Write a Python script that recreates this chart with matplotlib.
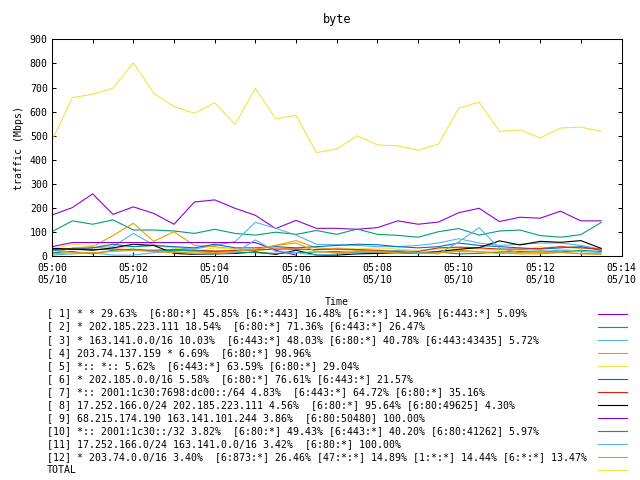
import numpy as np
import pandas as pd
import matplotlib
matplotlib.use('Agg')
import matplotlib.pyplot as plt
import matplotlib.dates as mdates
from matplotlib.lines import Line2D

plt.rcParams['font.family'] = ['DejaVu Sans Mono']
plt.rcParams['font.size'] = 7.15

# 30-second samples, 05:00:00 .. 05:13:30
times = pd.date_range('2020-05-10 05:00:00', periods=28, freq='30s')

labels = [
    "[ 1] * * 29.63%  [6:80:*] 45.85% [6:*:443] 16.48% [6:*:*] 14.96% [6:443:*] 5.09%",
    "[ 2] * 202.185.223.111 18.54%  [6:80:*] 71.36% [6:443:*] 26.47%",
    "[ 3] * 163.141.0.0/16 10.03%  [6:443:*] 48.03% [6:80:*] 40.78% [6:443:43435] 5.72%",
    "[ 4] 203.74.137.159 * 6.69%  [6:80:*] 98.96%",
    "[ 5] *:: *:: 5.62%  [6:443:*] 63.59% [6:80:*] 29.04%",
    "[ 6] * 202.185.0.0/16 5.58%  [6:80:*] 76.61% [6:443:*] 21.57%",
    "[ 7] *:: 2001:1c30:7698:dc00::/64 4.83%  [6:443:*] 64.72% [6:80:*] 35.16%",
    "[ 8] 17.252.166.0/24 202.185.223.111 4.56%  [6:80:*] 95.64% [6:80:49625] 4.30%",
    "[ 9] 68.215.174.190 163.141.101.244 3.86%  [6:80:50480] 100.00%",
    "[10] *:: 2001:1c30::/32 3.82%  [6:80:*] 49.43% [6:443:*] 40.20% [6:80:41262] 5.97%",
    "[11] 17.252.166.0/24 163.141.0.0/16 3.42%  [6:80:*] 100.00%",
    "[12] * 203.74.0.0/16 3.40%  [6:873:*] 26.46% [47:*:*] 14.89% [1:*:*] 14.44% [6:*:*] 13.47%",
    "TOTAL",
]

colors = ['#9400d3', '#009e73', '#56b4e9', '#e69f00', '#f0e442', '#0072b2',
          '#e51e10', '#000000', '#9400d3', '#009e73', '#56b4e9', '#e69f00',
          '#f0e442']

nan = np.nan
s1 = [171, 202, 259, 174, 205, 178, 133, 225, 234, 199, 170, 115, 149, 116,
      116, 112, 119, 147, 133, 142, 181, 199, 144, 162, 158, 187, 147, 147]
s2 = [102, 147, 133, 151, 109, 109, 105, 95, 112, 95, 88, 100, 91, 107,
      91, 113, 91, 87, 79, 102, 115, 88, 105, 109, 86, 79, 90, 140]
s3 = [25, 30, 35, 40, 95, 47, 35, 30, 45, 61, 141, 116, 88, 50,
      48, 45, 40, 40, 45, 55, 73, 55, 45, 50, 55, 55, 45, 30]
s4 = [12, 35, 40, 86, 137, 62, 102, 45, 40, 30, 25, 45, 65, 35,
      30, 25, 20, 15, 15, 20, 25, 20, 15, 10, 10, 15, 12, 10]
s5 = [30, 50, 45, 35, 40, 45, 35, 20, 35, 30, 20, 35, 30, 25,
      35, 30, 35, 30, 25, 30, 35, 30, 25, 25, 40, 25, 35, 30]
s6 = [25, 30, 35, 50, 40, 45, 40, 35, 50, 35, 35, 40, 35, 40,
      45, 50, 48, 40, 35, 40, 55, 45, 40, 35, 30, 35, 40, 25]
s7 = [28, 30, 28, 30, 27, 25, 28, 25, 22, 24, 26, 30, 30, 28,
      30, 28, 25, 22, 20, 35, 38, 35, 30, 30, 32, 40, 35, 30]
s8 = [33, 30, 25, 35, 50, 45, 12, 8, 10, 12, 18, 8, 25, 5,
      5, 10, 12, 15, 12, 20, 29, 36, 64, 47, 62, 58, 65, 33]
s9 = [40, 57, 57, 57, 57, 57, 57, 57, 57, 57, 57, 25, 5, nan,
      nan, nan, nan, nan, nan, nan, nan, nan, nan, nan, nan, nan, nan, nan]
s10 = [15, 20, 10, 25, 30, 20, 25, 22, 20, 18, 15, 12, 15, 18,
       20, 15, 18, 20, 15, 18, 10, 12, 18, 20, 22, 18, 25, 20]
s11 = [5, 10, 15, 5, 5, 15, 20, 10, 10, 15, 68, 20, 15, 5,
       10, 15, 20, 25, 15, 10, 60, 119, 33, 15, 20, 25, 20, 15]
s12 = [10, 15, 15, 20, 25, 20, 15, 18, 15, 20, 30, 45, 55, 20,
       15, 20, 18, 15, 12, 15, 20, 18, 12, 15, 15, 18, 10, 8]
total = [480, 658, 672, 697, 803, 676, 621, 593, 637, 547, 697, 570, 585, 430,
         445, 500, 462, 458, 440, 465, 615, 639, 518, 524, 491, 532, 536, 518]

series = [s1, s2, s3, s4, s5, s6, s7, s8, s9, s10, s11, s12, total]

fig = plt.figure(figsize=(6.4, 4.8), dpi=100)
ax = fig.add_axes([52 / 640, 1 - 256.3 / 480, 569.5 / 640, 217 / 480])

for vals, c in zip(series, colors):
    ax.plot(times, vals, color=c, lw=0.8)

ax.set_xlim(pd.Timestamp('2020-05-10 05:00'), pd.Timestamp('2020-05-10 05:14'))
ax.set_ylim(0, 900)
ax.set_yticks(range(0, 901, 100))
ax.xaxis.set_major_locator(mdates.MinuteLocator(byminute=range(0, 60, 2)))
ax.xaxis.set_minor_locator(mdates.MinuteLocator())
ax.xaxis.set_major_formatter(mdates.DateFormatter('%H:%M\n%m/%d'))
ax.tick_params(which='both', direction='in', top=True, right=True,
               length=3, width=0.75, pad=5)
ax.tick_params(axis='y', pad=3)
for sp in ax.spines.values():
    sp.set_linewidth(0.75)

ax.set_title('byte', pad=12)
ax.set_ylabel('traffic (Mbps)')
fig.text(337 / 640, 1 - 302 / 480, 'Time', ha='center', va='center')

# key below the plot
for i, (lab, c) in enumerate(zip(labels, colors)):
    y = 1 - (313.5 + 13.06 * i) / 480
    fig.text(47 / 640, y, lab, ha='left', va='center')
    fig.add_artist(Line2D([598 / 640, 627 / 640], [y, y], color=c, lw=0.8,
                          transform=fig.transFigure))

fig.savefig('out.png', dpi=100)
